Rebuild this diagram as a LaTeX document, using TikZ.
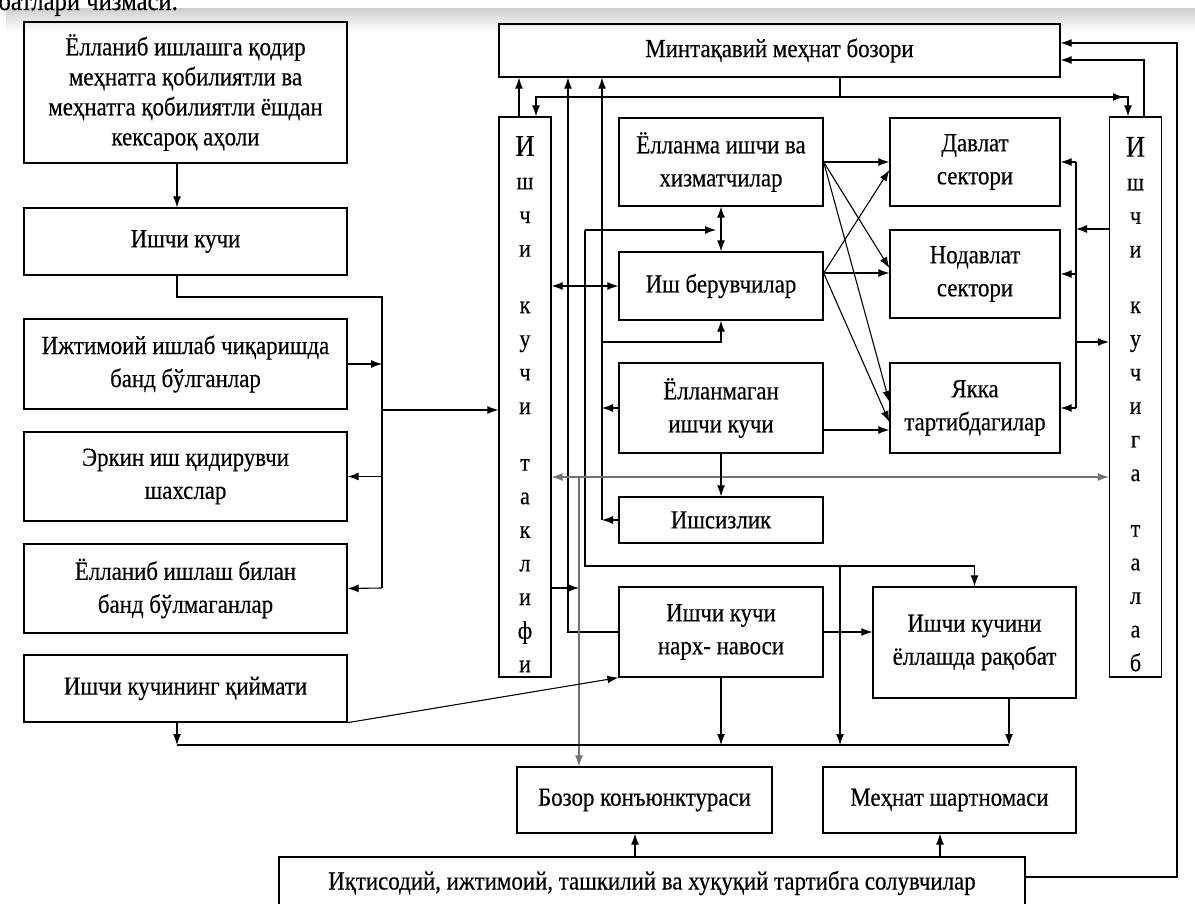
\documentclass[tikz,border=0pt]{standalone}
\usepackage{fontspec}
\setmainfont{Liberation Serif}[FakeStretch=0.88, FakeBold=0.4]
\usetikzlibrary{arrows.meta}

\begin{document}
\begin{tikzpicture}[x=1pt, y=-1pt,
	box/.style={draw, line width=1.3pt, inner sep=2pt, align=center, font=\fontsize{26}{33}\selectfont},
	vbox/.style={box, minimum width=52pt, minimum height=560pt, font=\fontsize{25}{33.6}\selectfont},
	arr/.style={-{Latex[length=11pt,width=8pt]}, line width=1.1pt},
	darr/.style={{Latex[length=11pt,width=8pt]}-{Latex[length=11pt,width=8pt]}, line width=1.1pt}]
\useasboundingbox (0,0) rectangle (1195,904);
\shade[top color=black!18, bottom color=white] (6,9) rectangle (1195,32); % scan shadow
\node[anchor=base east, inner sep=0pt, font=\fontsize{28}{30}\selectfont] (hd) at (178,10) {муносабатлари чизмаси.};

\node[box, minimum width=323pt, minimum height=141pt, font=\fontsize{26}{30}\selectfont] (A) at (185.5,92.5) {Ёлланиб ишлашга қодир\\меҳнатга қобилиятли ва\\меҳнатга қобилиятли ёшдан\\кексароқ аҳоли}; % population
\node[box, minimum width=323pt, minimum height=67pt] (IK) at (185.5,241.5) {Ишчи кучи}; % labour force
\node[box, minimum width=323pt, minimum height=90pt] (IJT) at (185.5,364) {Ижтимоий ишлаб чиқаришда\\банд бўлганлар}; % employed
\node[box, minimum width=323pt, minimum height=89pt] (ERK) at (185.5,476.5) {Эркин иш қидирувчи\\шахслар}; % job seekers
\node[box, minimum width=323pt, minimum height=89pt] (YOL) at (185.5,588.5) {Ёлланиб ишлаш билан\\банд бўлмаганлар}; % not hired
\node[box, minimum width=323pt, minimum height=67pt] (QIY) at (185.5,688.5) {Ишчи кучининг қиймати}; % value

\node[box, minimum width=561pt, minimum height=53pt] (MB) at (779.5,50.5) {Минтақавий меҳнат бозори}; % regional market
\node[vbox] (TK) at (525,397) {\rule{0pt}{34pt}{\fontsize{30}{33.6}\selectfont И}\\ш\\ч\\и\\[23pt]к\\у\\ч\\и\\[23pt]т\\а\\к\\л\\и\\ф\\и}; % supply
\node[vbox] (TL) at (1135.5,397) {\rule{0pt}{34pt}{\fontsize{30}{33.6}\selectfont И}\\ш\\ч\\и\\[22pt]к\\у\\ч\\и\\г\\а\\[22pt]т\\а\\л\\а\\б}; % demand

\node[box, minimum width=204pt, minimum height=88pt] (YE) at (721,162) {Ёлланма ишчи ва\\хизматчилар};
\node[box, minimum width=204pt, minimum height=68pt] (IB) at (721,286) {Иш берувчилар};
\node[box, minimum width=204pt, minimum height=90pt] (YM) at (721,408) {Ёлланмаган\\ишчи кучи};
\node[box, minimum width=204pt, minimum height=46pt] (IS) at (721,520) {Ишсизлик};
\node[box, minimum width=170pt, minimum height=88pt] (DS) at (975,162) {Давлат\\сектори};
\node[box, minimum width=170pt, minimum height=88pt] (ND) at (975,274) {Нодавлат\\сектори};
\node[box, minimum width=170pt, minimum height=90pt] (YK) at (975,408) {Якка\\тартибдагилар};
\node[box, minimum width=204pt, minimum height=90pt] (NN) at (721,632) {Ишчи кучи\\нарх- навоси};
\node[box, minimum width=203pt, minimum height=111pt] (RQ) at (974.5,642.5) {Ишчи кучини\\ёллашда рақобат};
\node[box, minimum width=255pt, minimum height=66pt] (BK) at (644.5,800) {Бозор конъюнктураси};
\node[box, minimum width=253pt, minimum height=66pt] (MS) at (949.5,800) {Меҳнат шартномаси};
\node[box, minimum width=746pt, minimum height=52pt] (IQ) at (652,883) {Иқтисодий, ижтимоий, ташкилий ва хуқуқий тартибга солувчилар};

\coordinate (kb) at (382,297); \coordinate (ke) at (382,588); \coordinate (kt) at (382,410);
\coordinate (mt) at (840,97); \coordinate (mr) at (1124,97); \coordinate (tm) at (1144,60);
\coordinate (r1) at (1177,877); \coordinate (r2) at (1177,43);
\coordinate (va) at (568,632); \coordinate (vc) at (602,520); \coordinate (vi) at (602,342);
\coordinate (vb1) at (585,230); \coordinate (vb0) at (716,230); \coordinate (vb2) at (585,566); \coordinate (vd) at (840,566);
\coordinate (g1) at (579,477); \coordinate (g2) at (579,588);
\coordinate (tv1) at (1076,162); \coordinate (tv2) at (1076,408); \coordinate (tv3) at (1076,229); \coordinate (tv4) at (1076,342);
\coordinate (bl) at (177,745); \coordinate (br) at (1009,745);

\draw[arr] ([xshift=-8.5pt]A.south) -- ([xshift=-8.5pt]IK.north);
\draw[line width=1.1pt] ([xshift=-8.5pt]IK.south) |- (kb) -- (ke); % left bus
\draw[arr] (IJT.east) -- (IJT.east -| kb);
\draw[arr] (ERK.east -| kb) -- (ERK.east);
\draw[arr] (ke) -- (YOL.east);
\draw[arr] (kt) -- (kt -| TK.west);

\draw[arr] ([xshift=-6pt]TK.north) -- ([xshift=-6pt]TK.north |- MB.south);
\draw[line width=1.1pt] (mt |- MB.south) -- (mt);
\draw[arr] (mt) -| ([xshift=11pt]TK.north);
\draw[arr] (mt) -- (mr);
\draw[arr] (mt) -| ([xshift=-7.5pt]TL.north);
\draw[arr] ([xshift=8.5pt]TL.north) -- (tm) -- (tm -| MB.east);
\draw[arr] (IQ.east |- r1) -- (r1) -- (r2) -- (r2 -| MB.east); % regulators to market

\draw[arr] (NN.west) -- (va) -- (va |- MB.south);
\draw[arr] (vc) -- (vc |- MB.south);
\draw[arr] (IS.west) -- (vc);
\draw[arr] (YM.west) -- (YM.west -| vc);
\draw[arr] (vi) -| (IB.south);
\draw[arr] (vb1) -- (vb0);
\draw[arr] (vb1) -- (vb2) -| (RQ.north);
\draw[arr] (vd) -- (vd |- bl);
\draw[arr, draw=black!55] (g1) -- (g1 |- BK.north);
\draw[darr, draw=black!55] (TK.east |- g1) -- (TL.west |- g1);
\draw[arr] (TK.east |- g2) -- (g2);

\draw[darr] (IB.west -| TK.east) -- (IB.west);
\draw[darr] (YE.south) -- (IB.north);

\draw[arr] (YE.east) -- (DS.west);
\draw[arr] (YE.east) -- ([yshift=6pt]ND.west);
\draw[arr] (YE.east) -- ([yshift=6pt]YK.west);
\draw[arr] ([yshift=13pt]IB.east) -- ([yshift=-8pt]DS.west);
\draw[arr] ([yshift=13pt]IB.east) -- ([yshift=1pt]ND.west);
\draw[arr] ([yshift=13pt]IB.east) -- ([yshift=-14pt]YK.west);
\draw[arr] ([yshift=-22pt]YM.east) -- ([yshift=-22pt]YK.west);

\draw[line width=1.1pt] (tv1) -- (tv2);
\draw[arr] (tv1) -- (DS.east);
\draw[arr] (ND.east -| tv1) -- (ND.east);
\draw[arr] (tv2) -- (YK.east);
\draw[arr] (TL.west |- tv3) -- (tv3);
\draw[arr] (tv4) -- (TL.west |- tv4);

\draw[arr] (YM.south) -- (IS.north);
\draw[arr] (NN.east) -- (NN.east -| RQ.west);
\draw[arr] (QIY.south east) -- (NN.south west);
\draw[line width=1.3pt] (bl) -- (br); % bottom bus
\draw[arr] ([xshift=-8.5pt]QIY.south) -- (bl);
\draw[arr] (NN.south) -- (NN.south |- bl);
\draw[arr] (RQ.south -| br) -- (br);
\draw[arr] ([xshift=-9.5pt]BK.south |- IQ.north) -- ([xshift=-9.5pt]BK.south);
\draw[arr] ([xshift=-9.5pt]MS.south |- IQ.north) -- ([xshift=-9.5pt]MS.south);
\end{tikzpicture}
\end{document}
